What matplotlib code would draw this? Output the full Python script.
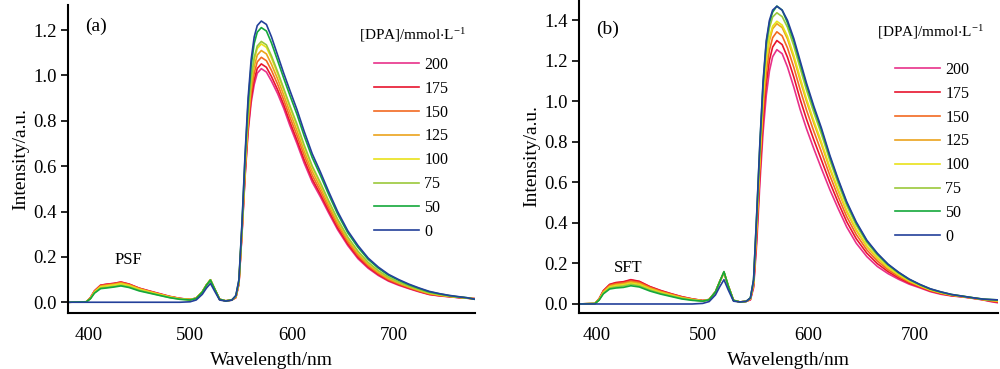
import matplotlib
matplotlib.use("Agg")
import matplotlib.pyplot as plt

plt.rcParams['font.family'] = ['Liberation Serif', 'DejaVu Serif']
plt.rcParams['mathtext.fontset'] = 'stix'

# wavelength grid (nm)
wl = [380, 398, 402, 406, 412, 418, 425, 432, 440, 450, 460, 470, 480, 490, 500, 506, 512, 516, 520, 524, 529, 535, 541,
      545, 548, 551, 554, 557, 560, 563, 566, 570, 575, 580, 586, 592, 598, 605, 612, 620, 628, 636, 645, 655, 665, 675,
      685, 695, 705, 715, 725, 735, 745, 755, 765, 772, 780]

labels = ['200', '175', '150', '125', '100', '75', '50', '0']
colors = ['#E8318A', '#E8142D', '#F26A21', '#EBA31D', '#E9E21A', '#9BC83B', '#14A83B', '#23409A']

# panel (a) PSF
a_200 = [0, 0.002, 0.02, 0.05, 0.075, 0.08, 0.083, 0.089, 0.08, 0.062, 0.05, 0.038, 0.026, 0.017, 0.012, 0.018, 0.045, 0.075, 0.097, 0.06, 0.013, 0.006, 0.01,
         0.02, 0.08, 0.30, 0.55, 0.75, 0.88, 0.96, 1.01, 1.03, 1.015, 0.975, 0.92, 0.855, 0.78, 0.70, 0.615, 0.53, 0.465, 0.395, 0.32, 0.25, 0.192, 0.15,
         0.118, 0.093, 0.075, 0.06, 0.046, 0.034, 0.028, 0.024, 0.02, 0.018, 0.016]
a_175 = [0, 0.002, 0.02, 0.05, 0.075, 0.079, 0.083, 0.089, 0.08, 0.062, 0.049, 0.037, 0.025, 0.017, 0.012, 0.018, 0.046, 0.076, 0.098, 0.06, 0.013, 0.006, 0.01,
         0.021, 0.082, 0.305, 0.56, 0.765, 0.899, 0.981, 1.031, 1.051, 1.036, 0.995, 0.937, 0.871, 0.796, 0.715, 0.629, 0.543, 0.476, 0.405, 0.328, 0.257, 0.198, 0.155,
         0.122, 0.096, 0.078, 0.062, 0.048, 0.035, 0.029, 0.025, 0.02, 0.018, 0.016]
a_150 = [0, 0.002, 0.019, 0.048, 0.073, 0.077, 0.081, 0.087, 0.078, 0.061, 0.048, 0.036, 0.025, 0.016, 0.012, 0.018, 0.046, 0.076, 0.099, 0.06, 0.013, 0.006, 0.01,
         0.022, 0.085, 0.312, 0.574, 0.786, 0.926, 1.01, 1.06, 1.08, 1.065, 1.022, 0.961, 0.892, 0.817, 0.736, 0.649, 0.56, 0.491, 0.418, 0.339, 0.266, 0.206, 0.161,
         0.127, 0.10, 0.081, 0.065, 0.05, 0.037, 0.03, 0.025, 0.021, 0.018, 0.015]
a_125 = [0, 0.002, 0.018, 0.046, 0.07, 0.074, 0.078, 0.084, 0.076, 0.059, 0.047, 0.035, 0.024, 0.016, 0.012, 0.018, 0.046, 0.076, 0.099, 0.06, 0.013, 0.006, 0.01,
         0.024, 0.088, 0.319, 0.588, 0.807, 0.952, 1.04, 1.09, 1.11, 1.095, 1.049, 0.985, 0.914, 0.839, 0.757, 0.668, 0.578, 0.507, 0.431, 0.35, 0.275, 0.214, 0.167,
         0.132, 0.104, 0.085, 0.068, 0.052, 0.039, 0.032, 0.026, 0.022, 0.019, 0.015]
a_100 = [0, 0.002, 0.017, 0.045, 0.068, 0.072, 0.076, 0.081, 0.073, 0.057, 0.045, 0.034, 0.023, 0.015, 0.011, 0.018, 0.046, 0.076, 0.099, 0.06, 0.013, 0.006, 0.01,
         0.025, 0.09, 0.326, 0.602, 0.828, 0.979, 1.069, 1.119, 1.139, 1.124, 1.076, 1.008, 0.936, 0.861, 0.778, 0.688, 0.595, 0.522, 0.444, 0.362, 0.284, 0.222, 0.173,
         0.137, 0.109, 0.088, 0.07, 0.055, 0.041, 0.033, 0.027, 0.022, 0.019, 0.014]
a_75 = [0, 0.002, 0.016, 0.042, 0.063, 0.066, 0.07, 0.075, 0.068, 0.053, 0.042, 0.031, 0.021, 0.014, 0.011, 0.017, 0.045, 0.075, 0.098, 0.06, 0.013, 0.006, 0.01,
        0.026, 0.091, 0.329, 0.607, 0.836, 0.988, 1.08, 1.13, 1.15, 1.135, 1.086, 1.017, 0.943, 0.868, 0.786, 0.695, 0.601, 0.528, 0.449, 0.366, 0.287, 0.225, 0.176,
        0.139, 0.11, 0.089, 0.071, 0.056, 0.042, 0.034, 0.027, 0.022, 0.019, 0.014]
a_50 = [0, 0.002, 0.015, 0.04, 0.06, 0.063, 0.067, 0.072, 0.065, 0.05, 0.04, 0.03, 0.02, 0.013, 0.01, 0.017, 0.045, 0.075, 0.098, 0.06, 0.013, 0.006, 0.01,
        0.029, 0.097, 0.343, 0.636, 0.879, 1.043, 1.141, 1.191, 1.211, 1.196, 1.143, 1.066, 0.988, 0.913, 0.829, 0.735, 0.638, 0.56, 0.477, 0.389, 0.306, 0.242, 0.189,
        0.15, 0.119, 0.097, 0.077, 0.061, 0.046, 0.037, 0.029, 0.023, 0.02, 0.013]
a_0 = [0, 0, 0, 0, 0, 0, 0, 0, 0, 0, 0, 0, 0, 0, 0.002, 0.01, 0.035, 0.062, 0.083, 0.05, 0.01, 0.005, 0.009,
       0.03, 0.10, 0.35, 0.65, 0.90, 1.07, 1.17, 1.22, 1.24, 1.225, 1.17, 1.09, 1.01, 0.935, 0.85, 0.755, 0.655, 0.575, 0.49, 0.40, 0.315, 0.25, 0.195,
       0.155, 0.123, 0.10, 0.08, 0.063, 0.048, 0.038, 0.03, 0.024, 0.02, 0.013]

# panel (b) SFT
b_200 = [0, 0.002, 0.025, 0.065, 0.095, 0.104, 0.108, 0.118, 0.11, 0.085, 0.066, 0.05, 0.036, 0.025, 0.017, 0.022, 0.06, 0.11, 0.155, 0.09, 0.018, 0.01, 0.013,
         0.02, 0.08, 0.30, 0.60, 0.85, 1.03, 1.15, 1.22, 1.255, 1.235, 1.17, 1.07, 0.96, 0.865, 0.765, 0.67, 0.565, 0.47, 0.38, 0.30, 0.234, 0.185, 0.15,
         0.122, 0.098, 0.08, 0.061, 0.048, 0.04, 0.035, 0.028, 0.02, 0.012, 0.005]
b_175 = [0, 0.002, 0.026, 0.066, 0.097, 0.106, 0.11, 0.12, 0.112, 0.086, 0.067, 0.051, 0.036, 0.025, 0.017, 0.022, 0.06, 0.11, 0.155, 0.09, 0.018, 0.01, 0.013,
         0.022, 0.088, 0.332, 0.642, 0.903, 1.087, 1.203, 1.268, 1.30, 1.28, 1.218, 1.12, 1.01, 0.912, 0.809, 0.712, 0.601, 0.50, 0.406, 0.322, 0.251, 0.199, 0.16,
         0.129, 0.103, 0.084, 0.064, 0.051, 0.041, 0.036, 0.029, 0.021, 0.014, 0.008]
b_150 = [0, 0.002, 0.024, 0.062, 0.092, 0.10, 0.104, 0.113, 0.106, 0.082, 0.063, 0.048, 0.034, 0.024, 0.016, 0.022, 0.06, 0.11, 0.155, 0.09, 0.018, 0.01, 0.013,
         0.024, 0.096, 0.362, 0.682, 0.953, 1.141, 1.253, 1.314, 1.343, 1.323, 1.264, 1.168, 1.058, 0.957, 0.851, 0.752, 0.635, 0.529, 0.431, 0.343, 0.267, 0.212, 0.169,
         0.136, 0.108, 0.087, 0.067, 0.053, 0.043, 0.037, 0.029, 0.022, 0.016, 0.011]
b_125 = [0, 0.002, 0.023, 0.059, 0.088, 0.095, 0.099, 0.108, 0.101, 0.078, 0.06, 0.046, 0.032, 0.023, 0.016, 0.022, 0.06, 0.11, 0.156, 0.09, 0.018, 0.01, 0.013,
         0.026, 0.104, 0.39, 0.72, 1.0, 1.192, 1.30, 1.358, 1.383, 1.364, 1.308, 1.214, 1.104, 1.0, 0.891, 0.79, 0.667, 0.557, 0.455, 0.363, 0.283, 0.224, 0.178,
         0.143, 0.113, 0.09, 0.069, 0.055, 0.044, 0.037, 0.03, 0.022, 0.018, 0.014]
b_100 = [0, 0.002, 0.022, 0.056, 0.084, 0.091, 0.095, 0.103, 0.096, 0.074, 0.057, 0.043, 0.03, 0.021, 0.015, 0.021, 0.06, 0.11, 0.156, 0.09, 0.018, 0.01, 0.013,
         0.027, 0.106, 0.398, 0.731, 1.014, 1.207, 1.314, 1.371, 1.395, 1.376, 1.321, 1.227, 1.117, 1.012, 0.903, 0.801, 0.676, 0.565, 0.462, 0.369, 0.287, 0.228, 0.181,
         0.145, 0.114, 0.091, 0.07, 0.056, 0.045, 0.038, 0.03, 0.023, 0.019, 0.015]
b_75 = [0, 0.002, 0.02, 0.053, 0.079, 0.085, 0.089, 0.097, 0.09, 0.069, 0.053, 0.04, 0.028, 0.02, 0.015, 0.021, 0.06, 0.11, 0.157, 0.09, 0.018, 0.01, 0.013,
        0.029, 0.114, 0.428, 0.77, 1.063, 1.26, 1.363, 1.416, 1.437, 1.418, 1.366, 1.274, 1.164, 1.056, 0.944, 0.84, 0.71, 0.593, 0.486, 0.389, 0.303, 0.24, 0.19,
        0.152, 0.119, 0.094, 0.073, 0.058, 0.046, 0.038, 0.031, 0.023, 0.021, 0.018]
b_50 = [0, 0.002, 0.019, 0.05, 0.074, 0.079, 0.082, 0.09, 0.084, 0.064, 0.049, 0.037, 0.025, 0.018, 0.014, 0.021, 0.06, 0.11, 0.16, 0.09, 0.018, 0.01, 0.013,
        0.03, 0.118, 0.443, 0.79, 1.088, 1.29, 1.39, 1.44, 1.47, 1.45, 1.388, 1.298, 1.188, 1.079, 0.965, 0.86, 0.727, 0.608, 0.499, 0.40, 0.311, 0.247, 0.195,
        0.155, 0.122, 0.096, 0.074, 0.059, 0.047, 0.039, 0.031, 0.024, 0.022, 0.02]
b_0 = [0, 0, 0, 0, 0, 0, 0, 0, 0, 0, 0, 0, 0, 0, 0.003, 0.012, 0.045, 0.085, 0.12, 0.07, 0.014, 0.01, 0.013,
       0.03, 0.12, 0.45, 0.80, 1.10, 1.30, 1.40, 1.45, 1.469, 1.45, 1.40, 1.31, 1.20, 1.09, 0.975, 0.87, 0.735, 0.615, 0.505, 0.405, 0.315, 0.25, 0.197,
       0.157, 0.123, 0.097, 0.075, 0.06, 0.047, 0.039, 0.031, 0.024, 0.022, 0.02]

series_a = [a_200, a_175, a_150, a_125, a_100, a_75, a_50, a_0]
series_b = [b_200, b_175, b_150, b_125, b_100, b_75, b_50, b_0]

fig = plt.figure(figsize=(10, 3.69), dpi=100)
ax1 = fig.add_axes([0.068, 0.152, 0.407, 0.834])
ax2 = fig.add_axes([0.579, 0.152, 0.419, 0.848])

legend_title = r'[DPA]/mmol$\cdot$L$^{\mathregular{-1}}$'

# ax, data, xlim, ylim, yticks, tag, tag pos, name, name pos, legend title pos (fig), legend anchor (fig)
panels = [
    (ax1, series_a, (380, 780), (-0.047, 1.31), [0.0, 0.2, 0.4, 0.6, 0.8, 1.0, 1.2], '(a)', (407.5, 1.215),
     'PSF', (439, 0.186), (0.413, 1 - 35 / 369), (0.374, 1 - 57 / 369)),
    (ax2, series_b, (383, 779), (-0.044, 1.50), [0.0, 0.2, 0.4, 0.6, 0.8, 1.0, 1.2, 1.4], '(b)', (409.7, 1.354),
     'SFT', (429.6, 0.178), (0.931, 1 - 32 / 369), (0.895, 1 - 62 / 369)),
]

for ax, series, xl, yl, yt, tag, tagpos, name, namepos, titlepos, legpos in panels:
    for vals, lab, c in zip(series, labels, colors):
        ax.plot(wl, vals, color=c, lw=1.2, label=lab)
    ax.set_xlim(*xl)
    ax.set_ylim(*yl)
    ax.set_xticks([400, 500, 600, 700])
    ax.set_yticks(yt)
    ax.yaxis.set_major_formatter(matplotlib.ticker.FormatStrFormatter('%.1f'))
    for s in ['top', 'right']:
        ax.spines[s].set_visible(False)
    for s in ['left', 'bottom']:
        ax.spines[s].set_linewidth(1.5)
    ax.tick_params(axis='y', direction='out', length=5, width=1.2, labelsize=13.5, pad=3)
    ax.tick_params(axis='x', direction='out', length=0, labelsize=13.5, pad=10)
    ax.set_xlabel('Wavelength/nm', fontsize=14, labelpad=6)
    ax.set_ylabel('Intensity/a.u.', fontsize=14, labelpad=3)
    ax.text(tagpos[0], tagpos[1], tag, fontsize=14, ha='center', va='center')
    ax.text(namepos[0], namepos[1], name, fontsize=12, ha='center', va='center')
    fig.text(titlepos[0], titlepos[1], legend_title, fontsize=11, ha='center', va='center')
    ax.legend(loc='upper left', bbox_to_anchor=legpos, bbox_transform=fig.transFigure,
              frameon=False, fontsize=11.5, borderpad=0, borderaxespad=0,
              handlelength=2.8, handletextpad=0.35, labelspacing=0.49)

fig.savefig('out.png', dpi=100)
